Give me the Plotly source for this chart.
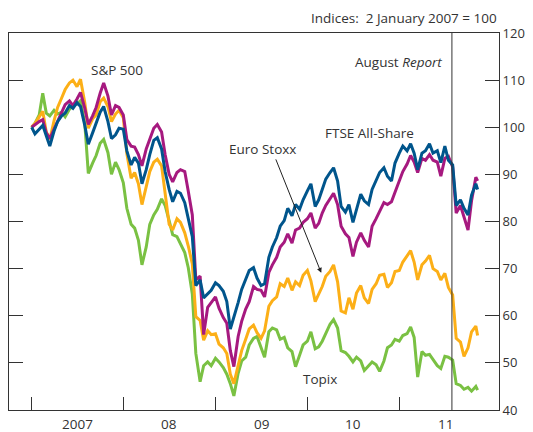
import pandas as pd
import plotly.graph_objects as go

# semi-monthly readings, 2 Jan 2007 .. 8 Nov 2011 (indices, 2 Jan 2007 = 100)
dates = ([pd.Timestamp("2007-01-02")]
         + list(pd.date_range("2007-01-15", "2011-11-01", freq="SMS"))
         + [pd.Timestamp("2011-11-08")])

ftse = [
    # 2007
    100.0, 98.6, 99.6, 100.4, 98.2, 96.0, 99.2, 101.2, 102.4, 103.0, 104.6, 104.0,
    105.2, 104.4, 100.4, 96.4, 98.8, 101.0, 103.2, 104.4, 101.2, 97.6, 98.4, 99.8,
    # 2008
    99.6, 95.0, 92.0, 93.6, 92.4, 88.0, 91.0, 94.2, 97.2, 97.8, 95.4, 90.6,
    86.8, 84.2, 86.4, 86.0, 84.0, 80.6, 76.8, 66.4, 67.6, 63.8, 64.6, 65.4,
    # 2009
    67.0, 66.4, 65.2, 63.0, 57.2, 59.6, 62.8, 65.6, 67.8, 69.6, 70.2, 68.0,
    66.4, 66.8, 72.4, 74.6, 76.6, 79.0, 80.2, 82.8, 81.2, 83.6, 82.6, 84.6,
    # 2010
    86.5, 88.0, 83.2, 84.6, 86.8, 89.0, 90.4, 91.4, 88.6, 83.2, 82.0, 83.6,
    79.8, 82.8, 85.8, 84.4, 83.6, 86.8, 88.8, 90.4, 91.4, 89.6, 88.6, 92.4,
    # 2011
    94.5, 96.0, 95.0, 96.5, 94.5, 91.0, 94.5, 95.0, 96.5, 94.5, 95.0, 92.5,
    96.0, 93.0, 92.0, 83.4, 84.6, 82.8, 81.4, 85.6, 88.0, 86.8,
]

sp500 = [
    100.0, 100.6, 101.2, 101.6, 98.8, 97.6, 99.6, 101.4, 103.2, 104.8, 105.6, 104.6,
    106.0, 107.4, 104.0, 100.6, 102.4, 104.2, 107.2, 109.4, 106.6, 102.6, 104.6, 104.2,
    102.6, 97.4, 96.0, 95.8, 94.2, 91.8, 95.4, 97.6, 99.8, 100.6, 99.0, 94.2,
    90.0, 88.4, 90.4, 91.0, 90.6, 86.4, 81.4, 67.6, 68.4, 56.0, 61.8, 62.8,
    64.0, 61.6, 59.6, 58.4, 52.6, 49.2, 55.6, 58.8, 61.4, 63.0, 66.2, 65.6,
    65.4, 64.0, 69.2, 70.8, 72.4, 74.6, 75.6, 77.4, 75.4, 78.2, 78.6, 79.8,
    80.6, 81.8, 78.6, 79.6, 81.8, 83.4, 85.0, 86.0, 83.6, 79.0, 77.4, 76.6,
    72.6, 75.6, 77.6, 76.0, 74.6, 79.0, 80.6, 82.2, 84.0, 83.6, 84.2, 86.2,
    88.6, 90.6, 92.2, 94.0, 92.6, 90.4, 93.4, 93.0, 94.2, 93.0, 92.6, 89.6,
    93.4, 93.8, 91.6, 81.8, 83.4, 81.2, 78.2, 84.4, 89.4, 88.6,
]

euro_stoxx = [
    100.0, 100.8, 102.2, 103.4, 99.0, 97.4, 101.4, 104.2, 106.2, 108.0, 109.4, 110.0,
    108.6, 110.2, 105.2, 99.8, 101.8, 102.6, 105.4, 106.2, 104.4, 101.2, 102.8, 103.6,
    102.0, 94.4, 89.2, 90.4, 88.0, 83.6, 87.4, 90.6, 92.6, 93.2, 91.8, 86.0,
    79.4, 78.2, 80.6, 79.8, 77.6, 74.8, 71.0, 59.8, 59.0, 54.8, 56.8, 56.0,
    56.2, 54.0, 53.2, 52.0, 47.6, 45.6, 49.8, 52.6, 55.0, 57.2, 58.0, 56.4,
    55.2, 56.8, 62.0, 63.2, 64.0, 66.8, 66.2, 68.0, 65.4, 67.2, 66.4, 68.6,
    69.6, 67.4, 63.0, 64.6, 66.2, 68.4, 69.4, 70.8, 67.2, 61.0, 60.6, 63.8,
    61.4, 64.8, 66.4, 63.8, 62.6, 65.6, 66.8, 68.6, 68.8, 66.0, 67.0, 69.4,
    69.6, 71.4, 72.6, 73.8, 71.4, 67.6, 70.8, 71.6, 72.8, 70.0, 69.4, 67.6,
    69.0, 66.0, 64.4, 55.2, 54.4, 51.4, 53.2, 56.6, 57.8, 55.8,
]

topix = [
    100.0, 100.8, 102.6, 107.2, 103.0, 102.4, 103.6, 102.8, 103.2, 102.2, 103.8, 104.6,
    105.0, 105.6, 100.8, 90.2, 92.4, 94.0, 96.6, 97.4, 94.6, 90.0, 92.6, 91.0,
    88.2, 82.8, 79.4, 78.6, 76.0, 70.8, 74.6, 79.4, 81.4, 82.6, 84.8, 83.4,
    80.2, 77.2, 76.8, 75.4, 73.4, 70.2, 64.6, 52.0, 46.0, 49.4, 50.2, 49.4,
    51.0, 50.2, 49.0, 47.6, 45.6, 43.0, 47.8, 50.4, 51.2, 53.8, 55.2, 55.6,
    53.4, 51.2, 56.6, 57.4, 57.0, 55.0, 55.4, 53.2, 52.4, 49.2, 51.6, 53.8,
    54.6, 56.6, 53.0, 53.4, 54.6, 56.4, 58.2, 59.2, 57.4, 52.6, 52.2, 51.4,
    50.2, 51.2, 50.4, 48.4, 49.4, 50.2, 49.6, 48.2, 50.4, 53.2, 53.8, 55.0,
    54.6, 55.8, 56.2, 57.6, 55.4, 47.0, 52.4, 51.6, 51.8, 50.6, 49.4, 48.8,
    51.4, 51.2, 50.6, 45.6, 45.2, 44.4, 44.8, 44.0, 45.0, 44.2,
]

year_labels = ["2007", "08", "09", "10", "11"]
year_starts = ["2007-01-01", "2008-01-01", "2009-01-01", "2010-01-01", "2011-01-01"]
year_mids = ["2007-07-02", "2008-07-02", "2009-07-02", "2010-07-02", "2011-07-02"]
report_date = "2011-07-29"

TXT = "#333333"
FONT = "Open Sans"
FS = 13.5

fig = go.Figure()
series = [
    ("Topix", topix, "#7AC143"),
    ("Euro Stoxx", euro_stoxx, "#FCAF17"),
    ("S&P 500", sp500, "#A6197F"),
    ("FTSE All-Share", ftse, "#00558C"),
]
for name, vals, col in series:
    fig.add_trace(go.Scatter(x=dates, y=vals, mode="lines", name=name,
                             line=dict(color=col, width=3)))

# August Report marker
fig.add_shape(type="line", x0=report_date, x1=report_date, xref="x",
              y0=0, y1=1, yref="paper", line=dict(color=TXT, width=1))

labels = [
    ("2007-12-08", 112.2, "S&P 500", "center"),
    ("2010-09-03", 98.7, "FTSE All-Share", "center"),
    ("2009-07-05", 95.3, "Euro Stoxx", "center"),
    ("2010-02-20", 46.6, "Topix", "center"),
    ("2011-06-28", 113.9, "August <i>Report</i>", "right"),
]
for x, y, text, anchor in labels:
    fig.add_annotation(x=x, y=y, text=text, xanchor=anchor, showarrow=False,
                       font=dict(family=FONT, size=FS, color=TXT))

# arrow pointing at Euro Stoxx line
fig.add_annotation(x="2010-02-25", y=69.1, ax=-46, ay=-115, text="",
                   showarrow=True, arrowhead=2, arrowsize=1, arrowwidth=1,
                   arrowcolor="#222222")

for lab, mid in zip(year_labels, year_mids):
    fig.add_annotation(x=mid, y=0, yref="paper", text=lab, showarrow=False,
                       yanchor="top", yshift=-3,
                       font=dict(family=FONT, size=FS, color=TXT))

fig.add_annotation(x=1, y=1, xref="paper", yref="paper", xanchor="right",
                   yanchor="bottom", yshift=4,
                   text="Indices:\u00a0 2 January 2007 = 100", showarrow=False,
                   font=dict(family=FONT, size=FS, color=TXT))

fig.update_xaxes(range=["2006-10-04", "2012-02-01"], tickvals=year_starts,
                 showticklabels=False, ticks="inside", ticklen=13, tickcolor=TXT,
                 showline=True, linecolor=TXT, linewidth=1, mirror=True,
                 showgrid=False, zeroline=False)
fig.update_yaxes(range=[40, 120], dtick=10, tick0=40, side="right",
                 ticks="inside", ticklen=14, tickcolor=TXT, mirror="ticks",
                 showline=True, linecolor=TXT, linewidth=1,
                 showgrid=False, zeroline=False,
                 tickfont=dict(family=FONT, size=13, color=TXT))

# the page body adds an 8px offset, so the figure is 8px smaller each way
fig.update_layout(width=525, height=424, showlegend=False,
                  margin=dict(l=1, r=34, t=25, b=22),
                  plot_bgcolor="white", paper_bgcolor="white",
                  font=dict(family=FONT, size=FS, color=TXT))

fig.write_html("out.html")
